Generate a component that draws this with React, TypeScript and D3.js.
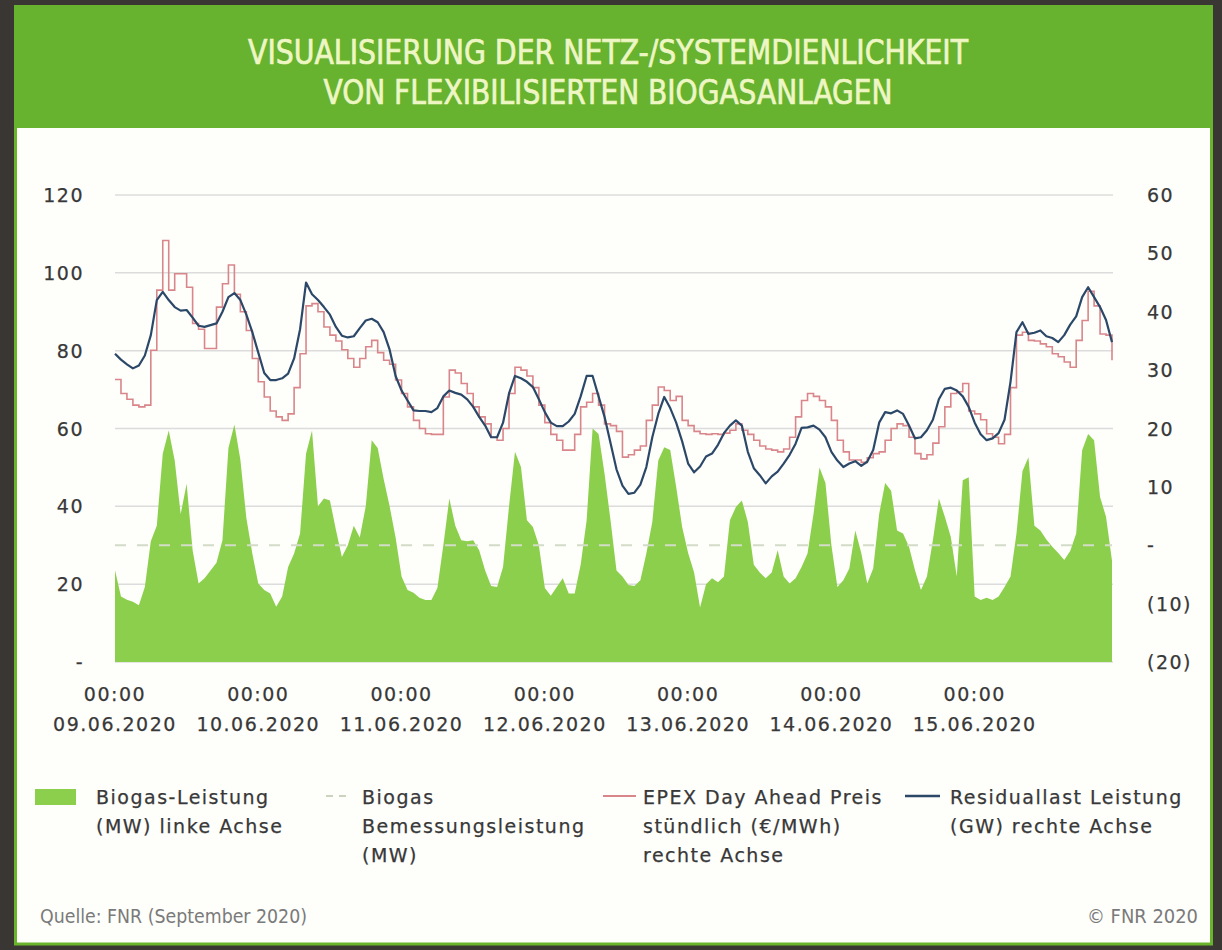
import React from 'react';
import * as d3 from 'd3';

const titleLines = ['VISUALISIERUNG DER NETZ-/SYSTEMDIENLICHKEIT', 'VON FLEXIBILISIERTEN BIOGASANLAGEN'];
const timeLabel = '00:00';
const dayLabels = ['09.06.2020', '10.06.2020', '11.06.2020', '12.06.2020', '13.06.2020', '14.06.2020', '15.06.2020'];
const leftTicks = [0, 20, 40, 60, 80, 100, 120];
const rightTicks = [-20, -10, 0, 10, 20, 30, 40, 50, 60];
const ratedCapacity = 30;

// Biogas-Leistung (MW), hourly, 09.06.2020 00:00 – 15.06.2020 23:00
const biogas = [
  23.6, 16.8, 16, 15.5, 14.6, 19.3, 31, 35, 53.5, 59.5, 51.8, 38, 45.8, 28.7, 20.2, 21.5, 23.5, 25.5, 31.3, 55, 61, 52, 37, 27.9,
  20.2, 18.5, 17.6, 14.2, 16.8, 24.4, 27.9, 33, 53.5, 59.5, 40, 42, 41.5, 34, 27, 30, 35, 32, 40, 57, 55, 47, 40, 32,
  22, 18.5, 17.8, 16.5, 15.9, 15.9, 19, 30, 42, 35, 31.3, 31, 31.3, 28.7, 23.5, 19.5, 19.3, 24.4, 40, 54, 50.1, 36.4, 34.7, 30,
  19, 17, 19.3, 21.5, 17.6, 17.6, 25, 36.4, 60, 58.6, 48.4, 36.4, 23.5, 22, 19.8, 19.5, 21, 27.9, 36, 51.8, 55.2, 54.5, 45, 34.7,
  28, 23, 14, 20, 21.5, 20.5, 22, 36.4, 39.8, 41.5, 36, 25, 23, 21.5, 23, 28.7, 22, 20.2, 21.5, 24.4, 27.9, 38, 50, 46,
  30, 19.3, 21, 24, 33.8, 28, 20.2, 24, 38, 46, 44, 33.8, 33, 29.6, 23.6, 18.5, 22, 31.3, 42, 37.3, 32.1, 22, 46.7, 47.5,
  16.8, 15.9, 16.5, 15.9, 16.8, 19.3, 22, 33, 49, 52.6, 35, 33.8, 31.5, 29.6, 28, 26.2, 28.5, 33, 54.4, 58.6, 57, 42.4, 37.3, 26,
];

// EPEX Day Ahead Preis stündlich (€/MWh)
const price = [
  28.4, 26, 25, 24, 23.7, 24, 33.4, 43.7, 52.2, 43.7, 46.5, 46.5, 44.2, 38, 37, 33.7, 33.7, 40.8, 44.8, 48, 43, 40, 36.8, 32,
  28, 25.4, 23, 22, 21.4, 22.5, 27, 32.8, 41, 41.4, 40, 37.4, 36, 35, 33.5, 32, 30.5, 32, 34, 35.1, 33, 31.7, 31, 28.3,
  26, 23.7, 21.4, 20, 19.1, 19, 19, 25.4, 30, 29.5, 27.7, 26, 23.7, 22, 20.8, 18.5, 18, 20, 26, 30.5, 30, 29, 27, 24,
  21, 19, 18, 16.3, 16.3, 19, 23.7, 24.5, 26, 24, 20.8, 20.5, 19.5, 15.1, 15.5, 16.3, 17, 21.4, 24, 27.1, 26.5, 24.8, 25.5, 21.4,
  20.5, 19.5, 19.1, 19, 19.1, 19, 19.2, 19.7, 20.8, 19.7, 19, 18, 17, 16.5, 16.3, 16, 16.5, 18.5, 22, 24.8, 26, 25.5, 24.8, 23.7,
  21.4, 18, 16, 14.6, 14.6, 14.2, 15, 15.7, 16, 18, 20, 20.8, 20.5, 18.5, 15.7, 14.8, 15.5, 17.5, 20.3, 23.7, 26, 26.3, 27.7, 23,
  22.5, 21.5, 19.1, 18.5, 17.4, 19, 27, 36, 36.5, 35.1, 35, 34.5, 34, 32.8, 32.3, 31.4, 30.5, 35.1, 38.5, 43.5, 41, 36.2, 36, 31.7,
];

// Residuallast Leistung (GW)
const residual = [
  32.8, 31.8, 31, 30.3, 30.8, 32.5, 36, 42, 43.4, 42, 40.8, 40.2, 40.3, 39, 37.6, 37.4, 37.7, 38, 40, 42.5, 43.2, 42, 39.5, 36.5,
  33, 29.5, 28.3, 28.3, 28.6, 29.4, 32, 37, 45, 43, 42, 40.8, 39.5, 37.4, 35.9, 35.6, 35.8, 37.2, 38.5, 38.8, 38.2, 36.5, 33.5, 29,
  26.5, 24.8, 23.1, 23, 23, 22.8, 23.5, 25.5, 26.5, 26.1, 25.8, 25, 23.7, 22, 20.5, 18.5, 18.5, 21, 26, 29, 28.6, 28, 27.1, 25,
  22.8, 21, 20.4, 20.4, 21.2, 22.5, 25.5, 29, 29, 25.5, 22, 17.5, 13, 10.2, 8.8, 9, 10.4, 13.4, 18.5, 22.5, 25.4, 23.5, 21, 17.8,
  14, 12.5, 13.5, 15.2, 15.7, 17.2, 19.2, 20.5, 21.4, 20.5, 16, 13.2, 12, 10.6, 11.8, 12.6, 14, 15.5, 17.4, 20.1, 20.2, 20.5, 19.8, 18.5,
  16, 14.5, 13.4, 14, 14.4, 13.6, 14.3, 16.3, 21, 22.8, 22.6, 23.1, 22.5, 20.5, 18.3, 18.5, 19.7, 21.5, 25, 26.8, 27, 26.5, 25.5, 23.7,
  21, 19, 18, 18.3, 19.2, 21.5, 28, 36.5, 38.2, 36.2, 36.4, 36.8, 35.8, 35.5, 34.8, 36, 37.8, 39.2, 42.5, 44.2, 42.5, 40.8, 38.6, 34.8,
];

const legendLabels = [
  ['Biogas-Leistung', '(MW) linke Achse'],
  ['Biogas', 'Bemessungsleistung', '(MW)'],
  ['EPEX Day Ahead Preis', 'stündlich (€/MWh)', 'rechte Achse'],
  ['Residuallast Leistung', '(GW) rechte Achse'],
];
const sourceText = 'Quelle: FNR (September 2020)';
const copyrightText = '© FNR 2020';

const GREEN = '#8ccf4c';
const RED = '#d9868a';
const BLUE = '#2c4868';
const TXT = '#383838';
const FONT = "'DejaVu Sans', Verdana, sans-serif";
const CFONT = "'DejaVu Sans Condensed', 'DejaVu Sans', sans-serif";

export default function App() {
  const W = 1222;
  const H = 950;
  const x = d3.scaleLinear().domain([0, biogas.length - 1]).range([115, 1112]);
  const yL = d3.scaleLinear().domain([0, 120]).range([662, 195]);
  const yR = d3.scaleLinear().domain([-20, 60]).range([662, 195]);

  const areaGen = d3.area<number>().x((_, i) => x(i)).y0(yL(0)).y1((d) => yL(d));
  const priceGen = d3.line<number>().x((_, i) => x(i)).y((d) => yR(d)).curve(d3.curveStepAfter);
  const resGen = d3.line<number>().x((_, i) => x(i)).y((d) => yR(d));

  const fmtLeft = (v: number) => (v === 0 ? '-' : String(v));
  const fmtRight = (v: number) => (v === 0 ? '-' : v < 0 ? `(${-v})` : String(v));

  const tickStyle = {
    fontFamily: FONT,
    fontSize: 19,
    fill: TXT,
    letterSpacing: 1.5,
    stroke: TXT,
    strokeWidth: 0.25,
  } as const;

  const legendX = [96, 362, 643, 950];

  return (
    <svg width={W} height={H} style={{ position: 'absolute', left: 0, top: 0, display: 'block' }}>
      <rect x={0} y={0} width={W} height={H} fill="#3a3633" />
      <rect x={15.5} y={120} width={1196} height={824} fill="#fefefb" stroke="#6ab42d" strokeWidth={3} />
      <rect x={14} y={5} width={1199} height={123} fill="#67b22f" />
      {titleLines.map((t, i) => (
        <text
          key={t}
          x={608}
          y={64 + i * 40}
          textAnchor="middle"
          fill="#eef6c4"
          stroke="#eef6c4"
          strokeWidth={0.7}
          style={{ fontFamily: CFONT, fontSize: 34, fontWeight: 400, fontStretch: 'condensed' }}
          textLength={i === 0 ? 720 : 569}
          lengthAdjust="spacingAndGlyphs"
        >
          {t}
        </text>
      ))}

      {/* gridlines */}
      {leftTicks.map((t) => (
        <line key={'g' + t} x1={115} x2={1113} y1={yL(t)} y2={yL(t)} stroke="#dcdcdc" strokeWidth={1.5} />
      ))}

      {/* biogas area */}
      <path d={areaGen(biogas) || ''} fill={GREEN} />

      {/* rated capacity dashed */}
      <line
        x1={115}
        x2={1112}
        y1={yL(ratedCapacity)}
        y2={yL(ratedCapacity)}
        stroke="#d3dcc6"
        strokeWidth={2}
        strokeDasharray="11 11"
      />

      <path d={priceGen(price) || ''} fill="none" stroke={RED} strokeWidth={1.6} />
      <path d={resGen(residual) || ''} fill="none" stroke={BLUE} strokeWidth={2.2} strokeLinejoin="round" />

      {/* left axis */}
      {leftTicks.map((t) => (
        <text key={'l' + t} x={84} y={yL(t)} textAnchor="end" dominantBaseline="central" style={tickStyle}>
          {fmtLeft(t)}
        </text>
      ))}
      {/* right axis */}
      {rightTicks.map((t) => (
        <text key={'r' + t} x={1147} y={yR(t)} textAnchor="start" dominantBaseline="central" style={tickStyle}>
          {fmtRight(t)}
        </text>
      ))}
      {/* x axis */}
      {dayLabels.map((d, i) => (
        <g key={d}>
          <text x={x(i * 24)} y={694} textAnchor="middle" dominantBaseline="central" style={tickStyle}>
            {timeLabel}
          </text>
          <text x={x(i * 24)} y={724} textAnchor="middle" dominantBaseline="central" style={tickStyle}>
            {d}
          </text>
        </g>
      ))}

      {/* legend */}
      <rect x={35} y={789} width={41} height={16} fill={GREEN} />
      <line x1={326} x2={348} y1={796} y2={796} stroke="#c9d3bd" strokeWidth={2} strokeDasharray="7 6" />
      <line x1={603} x2={636} y1={796} y2={796} stroke={RED} strokeWidth={2.2} />
      <line x1={905} x2={940} y1={796} y2={796} stroke={BLUE} strokeWidth={2.5} />
      {legendLabels.map((lines, i) =>
        lines.map((ln, j) => (
          <text key={i + '-' + j} x={legendX[i]} y={797 + j * 29} dominantBaseline="central" style={tickStyle}>
            {ln}
          </text>
        ))
      )}

      {/* footer */}
      <text
        x={40}
        y={923}
        fill="#7a7a7a"
        style={{ fontFamily: CFONT, fontSize: 19, fontStretch: 'condensed' }}
        textLength={267}
        lengthAdjust="spacingAndGlyphs"
      >
        {sourceText}
      </text>
      <text
        x={1198}
        y={923}
        textAnchor="end"
        fill="#7a7a7a"
        style={{ fontFamily: CFONT, fontSize: 19, fontStretch: 'condensed' }}
        textLength={111}
        lengthAdjust="spacingAndGlyphs"
      >
        {copyrightText}
      </text>
    </svg>
  );
}
